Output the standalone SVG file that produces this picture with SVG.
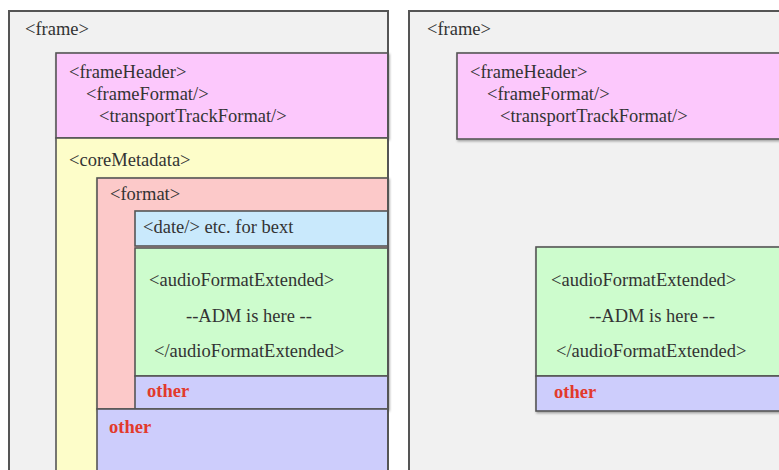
<svg xmlns="http://www.w3.org/2000/svg" width="779" height="470" viewBox="0 0 779 470">
<defs>
<filter id="sh" x="-5%" y="-5%" width="110%" height="115%"><feDropShadow dx="1" dy="1.5" stdDeviation="1" flood-color="#000" flood-opacity="0.35"/></filter>
</defs>
<style>
.t{font-family:"Liberation Serif","Times New Roman",serif;font-size:18.5px;fill:#333}
.o{font-family:"Liberation Serif","Times New Roman",serif;font-size:18.5px;font-weight:bold;fill:#e23a2c}
.b{stroke:#555;stroke-width:1.6}
.fr{fill:#f1f1f1;stroke:#555;stroke-width:2}
.pk{fill:#fcc8fc}.yl{fill:#fdfdc9}.rd{fill:#fcc9c9}.bl{fill:#c9e9fc}.gr{fill:#cdfccd}.pu{fill:#cdcdfc}
</style>
<rect width="779" height="470" fill="#fff"/>
<g id="frameLeft">
<rect class="fr" x="9" y="11" width="379" height="470"/>
<text class="t" x="25" y="35">&lt;frame&gt;</text>
</g>
<g id="frameHeaderLeft">
<rect class="pk b" x="56" y="53" width="332" height="85" filter="url(#sh)"/>
<text class="t" x="69" y="78">&lt;frameHeader&gt;</text>
<text class="t" x="86" y="100">&lt;frameFormat/&gt;</text>
<text class="t" x="99" y="122">&lt;transportTrackFormat/&gt;</text>
</g>
<g id="coreMetadata">
<rect class="yl b" x="56" y="138" width="332" height="340"/>
<text class="t" x="69" y="166">&lt;coreMetadata&gt;</text>
</g>
<g id="format">
<rect class="rd b" x="97" y="178" width="291" height="231" filter="url(#sh)"/>
<text class="t" x="110" y="200">&lt;format&gt;</text>
</g>
<g id="bext">
<rect class="bl b" x="135" y="211" width="253" height="35"/>
<text class="t" x="143" y="233">&lt;date/&gt; etc. for bext</text>
</g>
<g id="afeLeft">
<rect class="gr b" x="135" y="248" width="253" height="128"/>
<text class="t" x="149" y="286">&lt;audioFormatExtended&gt;</text>
<text class="t" x="186" y="322">--ADM is here --</text>
<text class="t" x="154" y="357">&lt;/audioFormatExtended&gt;</text>
</g>
<g id="otherFormat">
<rect class="pu b" x="135" y="376" width="253" height="33"/>
<text class="o" x="147" y="397">other</text>
</g>
<g id="otherCore">
<rect class="pu b" x="97" y="409" width="291" height="70"/>
<text class="o" x="109" y="433">other</text>
</g>
<line x1="388" y1="11" x2="388" y2="470" stroke="#555" stroke-width="2"/>
<g id="frameRight">
<rect class="fr" x="409" y="11" width="380" height="470"/>
<text class="t" x="427" y="35">&lt;frame&gt;</text>
</g>
<g id="frameHeaderRight">
<rect class="pk b" x="457" y="53" width="330" height="86" filter="url(#sh)"/>
<text class="t" x="470" y="78">&lt;frameHeader&gt;</text>
<text class="t" x="487" y="100">&lt;frameFormat/&gt;</text>
<text class="t" x="500" y="122">&lt;transportTrackFormat/&gt;</text>
</g>
<g id="afeRight" filter="url(#sh)">
<rect class="gr b" x="536" y="247" width="250" height="129"/>
<rect class="pu b" x="536" y="376" width="250" height="35"/>
</g>
<g id="afeRightText">
<text class="t" x="551" y="286">&lt;audioFormatExtended&gt;</text>
<text class="t" x="589" y="322">--ADM is here --</text>
<text class="t" x="556" y="357">&lt;/audioFormatExtended&gt;</text>
<text class="o" x="554" y="398">other</text>
</g>
<g id="connectors"/>
</svg>
